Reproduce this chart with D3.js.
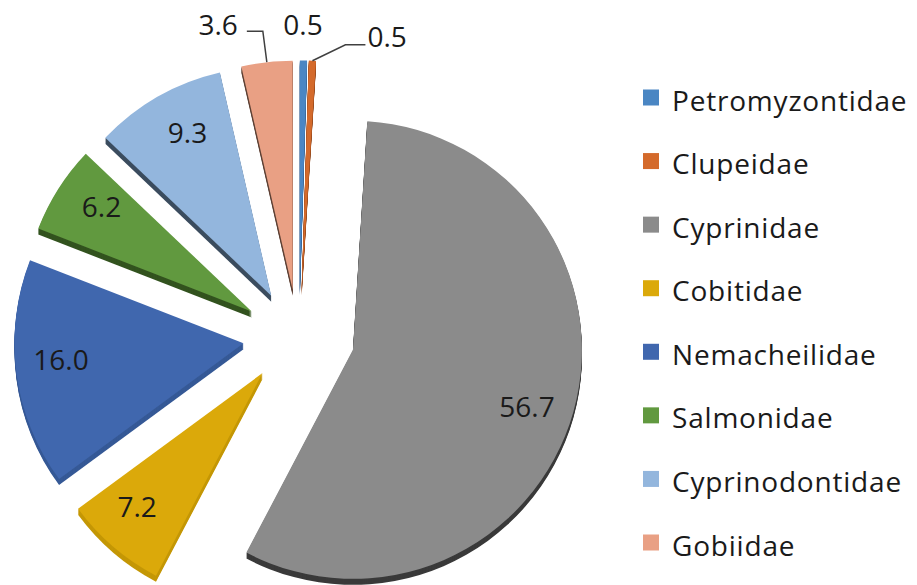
<!DOCTYPE html>
<html>
<head>
<meta charset="utf-8">
<script src="https://d3js.org/d3.v7.min.js"></script>
<style>
  body { margin: 0; background: #fff; }
  svg { display: block; font-family: 'Open Sans', 'Noto Sans', sans-serif; }
  .lbl { font-size: 28px; fill: #1a1a1a; }
  .legend text { font-size: 28px; fill: #1a1a1a; letter-spacing: 0.8px; }
  .leader { stroke: #404040; stroke-width: 1.5; fill: none; }
</style>
</head>
<body>
<svg id="chart"></svg>
<script>
// fish families, share of species (%)
var families = ["Petromyzontidae", "Clupeidae", "Cyprinidae", "Cobitidae",
                "Nemacheilidae", "Salmonidae", "Cyprinodontidae", "Gobiidae"];
var shares = [0.5, 0.5, 56.7, 7.2, 16.0, 6.2, 9.3, 3.6];

var colors = ["#4a86c3", "#d46a2b", "#8b8b8b", "#dba90a",
              "#4067ae", "#61993f", "#93b6dd", "#e9a084"];
var sideColors = ["#2f5a88", "#8f4318", "#3a3a3a", "#c49706",
                  "#365996", "#33531f", "#3c4d5f", "#5e4236"];

// labels of the thin slices sit outside, with leader lines (offsets from the slice tip)
var outside = {
  "Petromyzontidae": { tx: -0.5, ty: -25, anchor: "middle", line: null },
  "Clupeidae":       { tx: 55, ty: -14, anchor: "start", line: [[33, -16], [53, -16]] },
  "Gobiidae":        { tx: -29, ty: -27, anchor: "end", line: [[-4, -31], [-20, -31]] }
};

var W = 917, H = 585;
var cx = 299, cy = 337, r = 229, explode = 56, tilt = 0.85, depth = 6;
var labelTurn = 2.5 * Math.PI / 180;  // the 3-D view nudges the inside labels clockwise

var svg = d3.select("#chart").attr("width", W).attr("height", H);

var data = families.map(function (f, i) { return { name: f, value: shares[i], i: i }; });

var pie = d3.pie().sort(null).value(function (d) { return d.value; });
var arc = d3.arc().innerRadius(0).outerRadius(r);
var arcs = pie(data);

arcs.forEach(function (a) {
  a.mid = (a.startAngle + a.endAngle) / 2;
  a.ox = cx + explode * Math.sin(a.mid);
  a.oy = cy - tilt * explode * Math.cos(a.mid);
});

var g = svg.append("g");

// extruded sides first, then faces on top
var slices = g.selectAll("g.slice").data(arcs).enter().append("g")
  .attr("class", "slice")
  .attr("transform", function (a) { return "translate(" + a.ox + "," + a.oy + ")"; });

slices.each(function (a) {
  var s = d3.select(this);
  for (var t = depth; t >= 1; t--) {
    s.append("path")
      .attr("d", arc(a))
      .attr("transform", "translate(0," + t + ")")
      .attr("fill", sideColors[a.data.i]);
  }
  s.append("path")
    .attr("d", arc(a))
    .attr("fill", colors[a.data.i]);
});

// labels
arcs.forEach(function (a) {
  var txt = a.data.value.toFixed(1);
  var o = outside[a.data.name];
  if (!o) {
    var lr = 0.8 * r, la = a.mid + labelTurn;
    svg.append("text").attr("class", "lbl")
      .attr("x", a.ox + lr * Math.sin(la))
      .attr("y", a.oy - lr * Math.cos(la))
      .attr("dy", "0.36em")
      .attr("text-anchor", "middle")
      .text(txt);
    return;
  }
  var px = a.ox + r * Math.sin(a.mid), py = a.oy - r * Math.cos(a.mid);
  if (o.line) {
    var pts = [[px, py]].concat(o.line.map(function (p) { return [px + p[0], py + p[1]]; }));
    svg.append("path").attr("class", "leader").attr("d", d3.line()(pts));
  }
  svg.append("text").attr("class", "lbl")
    .attr("x", px + o.tx).attr("y", py + o.ty)
    .attr("text-anchor", o.anchor)
    .text(txt);
});

// legend
var ly = d3.scalePoint().domain(families).range([97.5, 542.5]);
var legend = svg.append("g").attr("class", "legend");
var items = legend.selectAll("g").data(families).enter().append("g")
  .attr("transform", function (f) { return "translate(643," + ly(f) + ")"; });
items.append("rect")
  .attr("x", 0).attr("y", -8).attr("width", 16).attr("height", 16)
  .attr("fill", function (f, i) { return colors[i]; });
items.append("text")
  .attr("x", 29).attr("y", 13)
  .text(function (f) { return f; });
</script>
</body>
</html>
